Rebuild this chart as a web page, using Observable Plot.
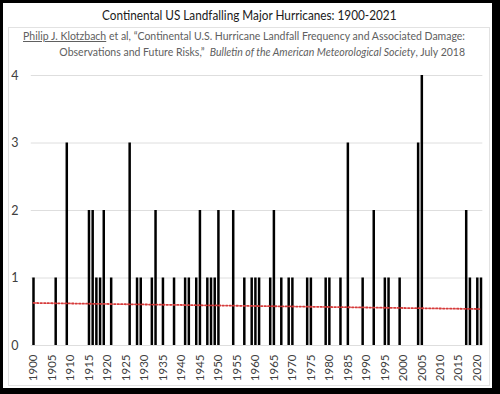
<!DOCTYPE html>
<html>
<head>
<meta charset="utf-8">
<script src="https://cdn.jsdelivr.net/npm/d3@7"></script>
<script src="https://cdn.jsdelivr.net/npm/@observablehq/plot@0.6"></script>
<style>
  html, body { margin: 0; padding: 0; background: #fff; }
  body { width: 500px; height: 394px; position: relative; overflow: hidden; font-family: Lato, "Open Sans", sans-serif; }
  #frame { position: absolute; left: 0; top: 0; width: 500px; height: 394px; box-sizing: border-box;
    border-left: 3px solid #000; border-top: 3px solid #000; border-right: 8px solid #000; border-bottom: 6px solid #000;
    pointer-events: none; z-index: 3; }
  #inner { position: absolute; left: 8px; top: 27px; width: 482px; height: 359px; box-sizing: border-box;
    border: 1px solid #e2e2e2; z-index: 1; }
  #title { position: absolute; left: 0; top: 6px; width: 498px; text-align: center; font-size: 14px; color: #1a1a1a; z-index: 2; }
  #title span { display: inline-block; transform: scaleX(0.84); transform-origin: center; white-space: nowrap; }
  .sub { position: absolute; right: 35px; font-size: 10.5px; color: #606060; white-space: nowrap; z-index: 2; }
  #sub1 { top: 30px; }
  #sub2 { top: 46px; }
  #chart { position: absolute; left: 0; top: 60px; z-index: 2; }
</style>
</head>
<body>
<div id="inner"></div>
<div id="title"><span>Continental US Landfalling Major Hurricanes: 1900-2021</span></div>
<div class="sub" id="sub1"><u>Philip J. Klotzbach</u> et al, “Continental U.S. Hurricane Landfall Frequency and Associated Damage:</div>
<div class="sub" id="sub2">Observations and Future Risks,” &nbsp;<i>Bulletin of the American Meteorological Society</i>, July 2018</div>
<div id="chart"></div>
<div id="frame"></div>
<script>
const years = [1900,1906,1909,1915,1916,1917,1918,1919,1921,1926,1928,1929,1932,1933,1935,1938,1941,1942,1944,1945,1947,1948,1949,1950,1954,1957,1959,1960,1961,1964,1965,1967,1969,1970,1974,1975,1979,1980,1983,1985,1989,1992,1995,1996,1999,2004,2005,2017,2018,2020,2021];
const counts = [1,1,3,2,2,1,1,2,1,3,1,1,1,2,1,1,1,1,1,2,1,1,1,2,2,1,1,1,1,1,2,1,1,1,1,1,1,1,1,3,1,2,1,1,1,3,4,2,1,1,1];
const trendYears = [1900, 2021];
const trendValues = [0.63, 0.54];
const yTicks = [0, 1, 2, 3, 4];
const xTicks = d3.range(1900, 2021, 5);

const data = years.map((y, i) => ({year: y, count: counts[i]}));
const trend = trendYears.map((y, i) => ({year: y, value: trendValues[i]}));

const chart = Plot.plot({
  width: 500,
  height: 334,
  marginLeft: 33,
  marginRight: 19.5,
  marginTop: 15,
  marginBottom: 49,
  style: {fontFamily: "Lato, 'Open Sans', sans-serif", background: "transparent", color: "#404040"},
  x: {domain: [1900, 2021], label: null},
  y: {domain: [0, 4], label: null},
  marks: [
    Plot.ruleY(yTicks, {x1: 1899.4, x2: 2021.5, stroke: "#dedede", strokeWidth: 1}),
    Plot.ruleX(data, {x: "year", y1: 0, y2: "count", stroke: "#000", strokeWidth: 2.5}),
    Plot.line(trend, {x: "year", y: "value", stroke: "#d63a3a", strokeWidth: 1.8, strokeDasharray: "1.5,2"}),
    Plot.axisX({ticks: xTicks, tickFormat: d => String(d), tickRotate: -90, tickSize: 0, tickPadding: 9, fontSize: 11.5, label: null}),
    Plot.axisY({ticks: yTicks, tickFormat: d => String(d), tickSize: 0, tickPadding: 15, fontSize: 12.5, label: null})
  ]
});
document.getElementById("chart").appendChild(chart);
</script>
</body>
</html>
